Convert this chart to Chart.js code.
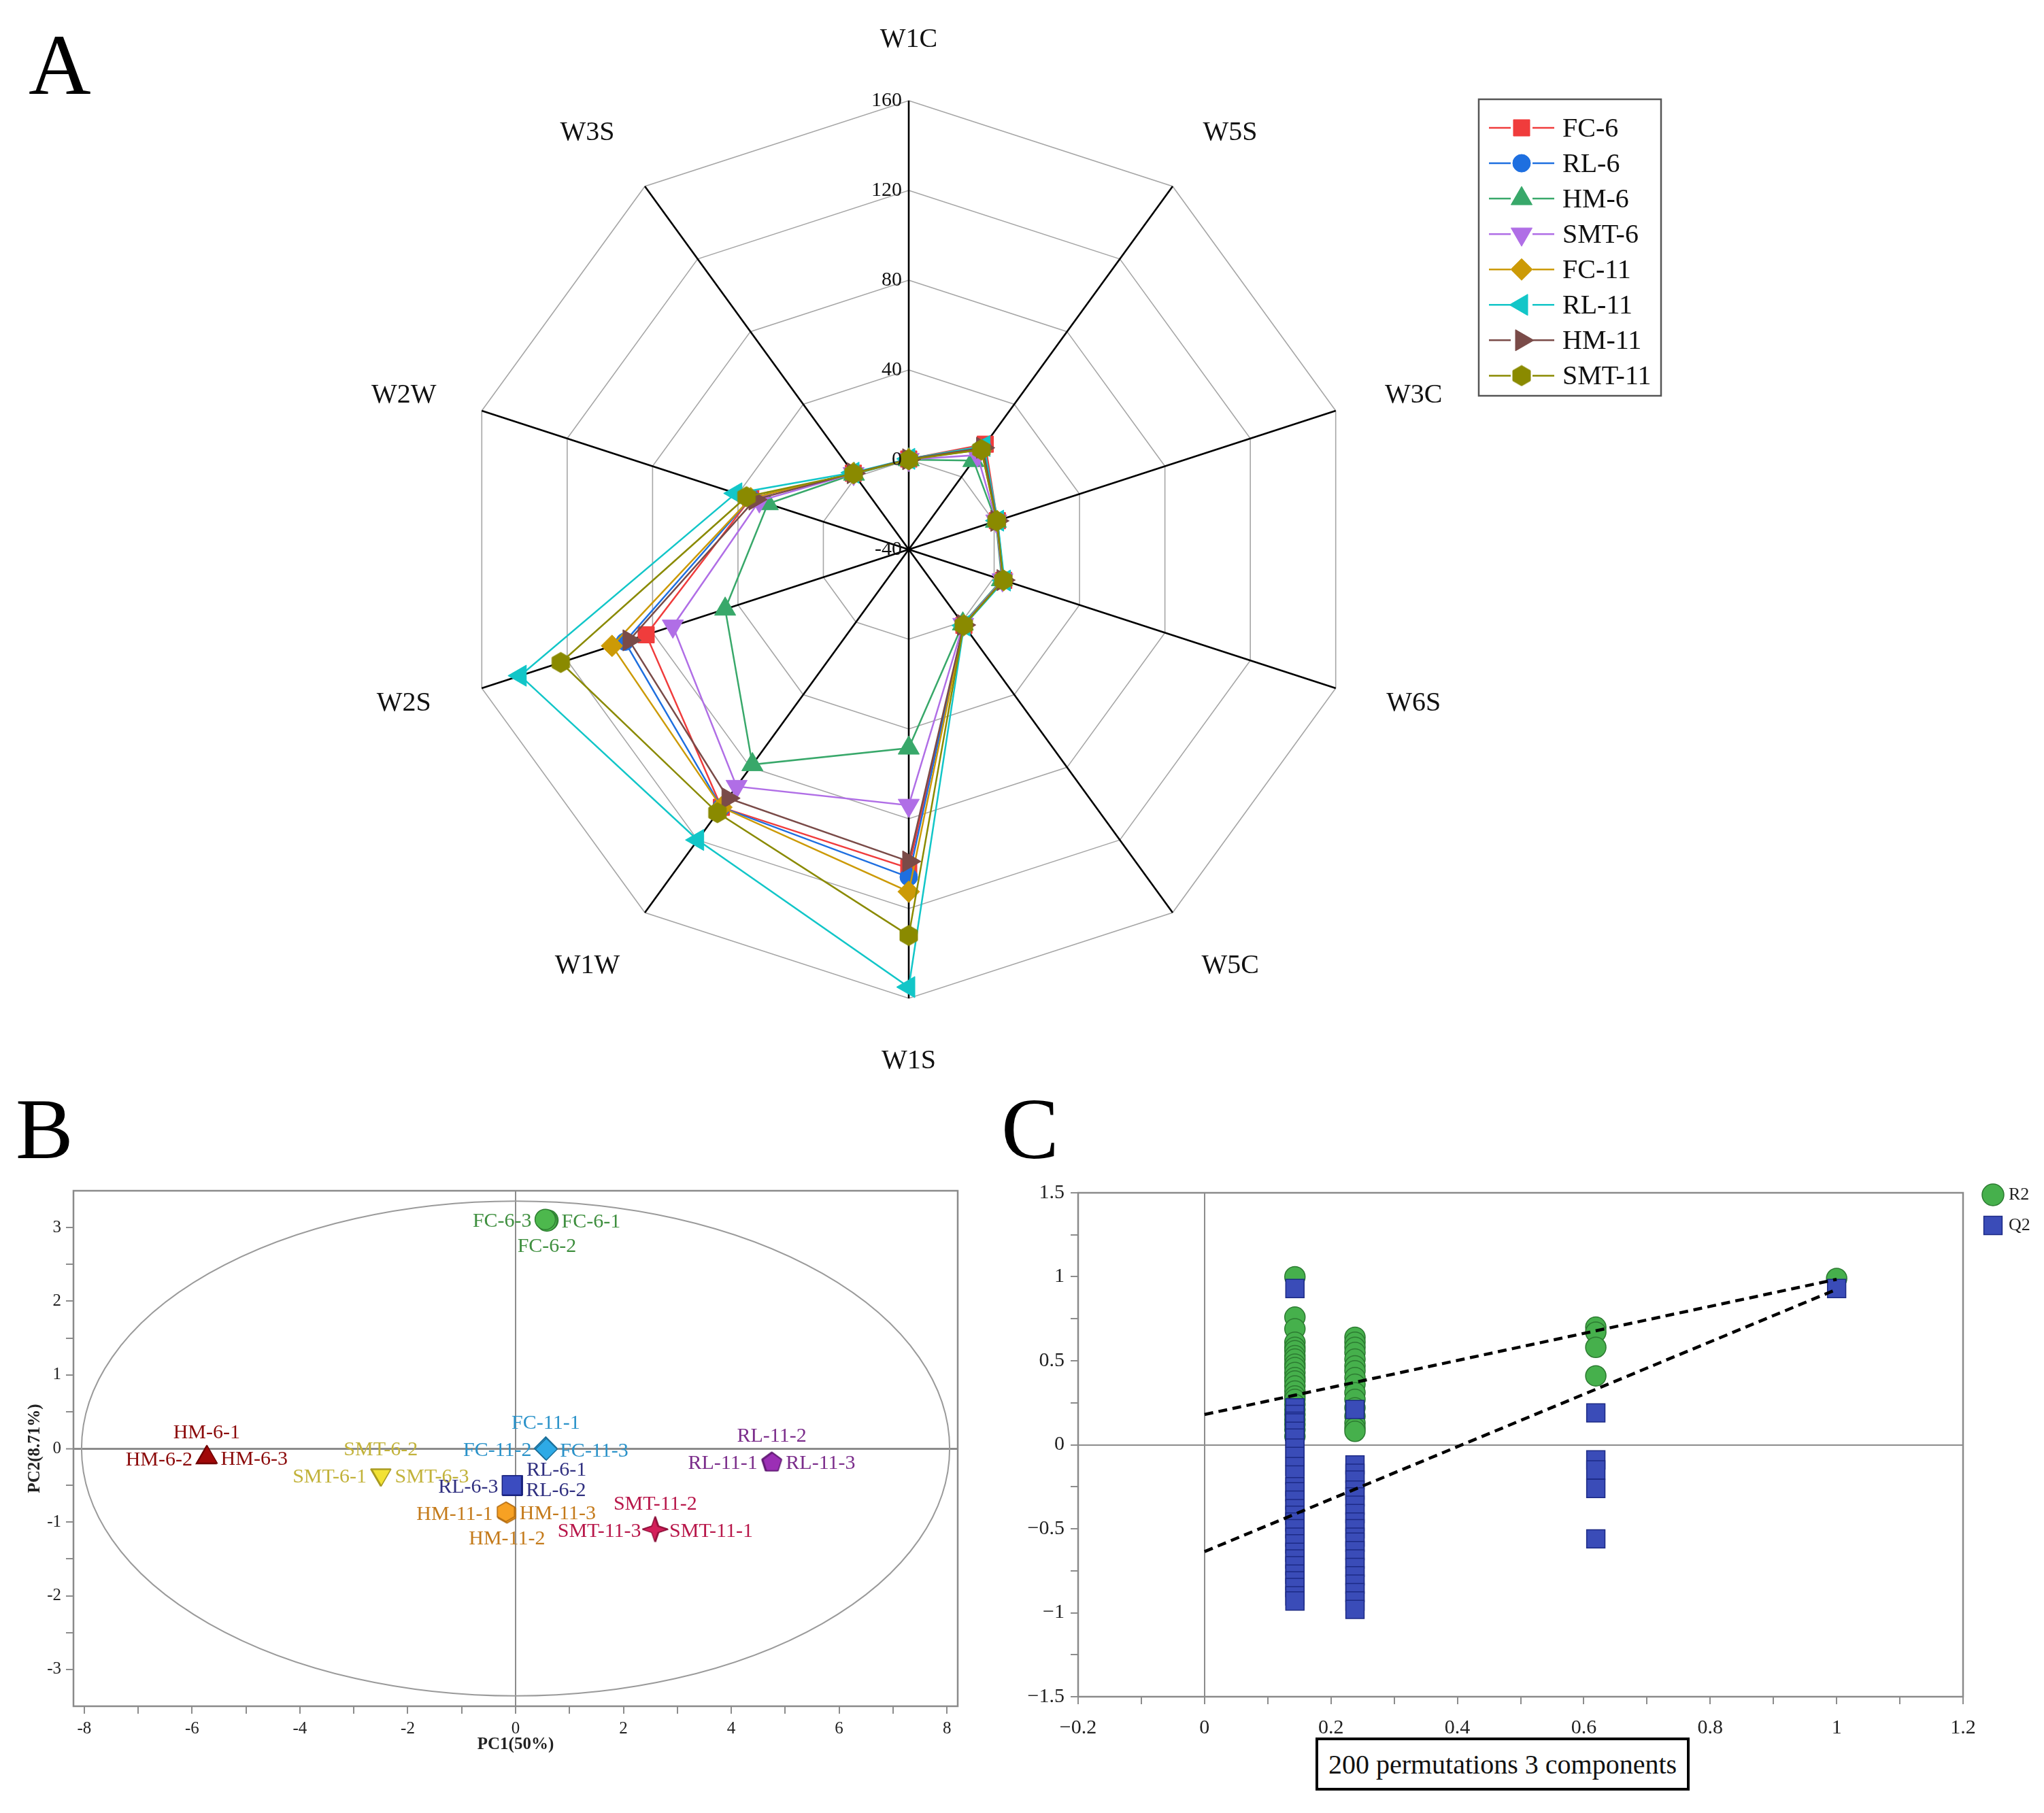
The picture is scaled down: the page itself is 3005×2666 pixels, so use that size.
<!DOCTYPE html>
<html>
<head>
<meta charset="utf-8">
<script src="https://cdn.jsdelivr.net/npm/chart.js@4.4.1/dist/chart.umd.min.js"></script>
<style>
html, body { margin: 0; padding: 0; background: #fff; }
#wrap { position: relative; width: 3005px; height: 2666px; overflow: hidden; background: #fff;
        font-family: "Liberation Serif", "Times New Roman", serif; }
canvas { position: absolute; }
.letter { position: absolute; font-size: 127px; line-height: 1; color: #000; z-index: 5; }
#permbox { position: absolute; left: 1934px; top: 2555px; width: 550px; height: 78px;
           border: 4px solid #000; box-sizing: border-box; font-size: 40px; color: #111;
           display: flex; align-items: center; justify-content: center; z-index: 5; background: #fff; }
</style>
</head>
<body>
<div id="wrap">
  <canvas id="radar" width="3005" height="1620" style="left:0;top:0;width:3005px;height:1620px"></canvas>
  <canvas id="pca" width="1450" height="950" style="left:0;top:1700px;width:1450px;height:950px"></canvas>
  <canvas id="perm" width="1555" height="950" style="left:1450px;top:1700px;width:1555px;height:950px"></canvas>
  <div class="letter" style="left:42px;top:32px">A</div>
  <div class="letter" style="left:23px;top:1597px">B</div>
  <div class="letter" style="left:1472px;top:1597px">C</div>
  <div id="permbox">200 permutations 3 components</div>
</div>
<script>
// ===================== DATA =====================
// Panel A: electronic-nose radar
const sensors = ['W1C', 'W5S', 'W3C', 'W6S', 'W5C', 'W1S', 'W1W', 'W2S', 'W2W', 'W3S'];
const radarGroups = ['FC-6', 'RL-6', 'HM-6', 'SMT-6', 'FC-11', 'RL-11', 'HM-11', 'SMT-11'];
const radarFC6   = [0.3, 18, 1.5, 4.5, 1.8, 102, 102, 83, 34, 2.0];
const radarRL6   = [0.2, 16, 1.3, 4.3, 1.6, 106, 102, 93, 34, 2.0];
const radarHM6   = [0.0, 9, 0.8, 3.6, 1.0, 48.5, 78.5, 46, 26, 1.5];
const radarSMT6  = [0.1, 12, 1.0, 3.9, 1.3, 74, 90.5, 70.5, 30, 1.8];
const radarFC11  = [0.2, 15, 1.3, 4.4, 1.7, 112.5, 102, 99, 34, 2.0];
const radarRL11  = [0.4, 17, 1.6, 4.8, 1.9, 155, 120, 142, 41, 2.3];
const radarHM11  = [0.2, 16, 1.3, 4.2, 1.6, 99, 97, 91, 32, 2.0];
const radarSMT11 = [0.0, 15, 1.2, 4.3, 1.7, 132, 105, 123, 36, 1.8];
const radarTickValues = [-40, 0, 40, 80, 120, 160];

// Panel B: PCA scores
const pcaGroups = ['FC-6', 'RL-6', 'HM-6', 'SMT-6', 'FC-11', 'RL-11', 'HM-11', 'SMT-11'];
const pcaSampleNames = ['FC-6-1', 'FC-6-2', 'FC-6-3', 'RL-6-1', 'RL-6-2', 'RL-6-3',
  'HM-6-1', 'HM-6-2', 'HM-6-3', 'SMT-6-1', 'SMT-6-2', 'SMT-6-3',
  'FC-11-1', 'FC-11-2', 'FC-11-3', 'RL-11-1', 'RL-11-2', 'RL-11-3',
  'HM-11-1', 'HM-11-2', 'HM-11-3', 'SMT-11-1', 'SMT-11-2', 'SMT-11-3'];
const pcaPC1 = [0.60, 0.58, 0.55, -0.05, -0.06, -0.07,
  -5.73, -5.74, -5.72, -2.51, -2.50, -2.49,
  0.56, 0.55, 0.57, 4.74, 4.75, 4.76,
  -0.17, -0.16, -0.18, 2.60, 2.59, 2.58];
const pcaPC2 = [3.10, 3.09, 3.11, -0.50, -0.51, -0.50,
  -0.12, -0.13, -0.12, -0.36, -0.35, -0.36,
  0.01, 0.00, -0.01, -0.18, -0.17, -0.18,
  -0.87, -0.88, -0.86, -1.10, -1.09, -1.10];
const pcaEllipseSemiAxes = [8.05, 3.36];
const pcaXTickValues = [-8, -7, -6, -5, -4, -3, -2, -1, 0, 1, 2, 3, 4, 5, 6, 7, 8];
const pcaYTickValues = [-3, -2.5, -2, -1.5, -1, -0.5, 0, 0.5, 1, 1.5, 2, 2.5, 3];
const pcaXTitle = 'PC1(50%)';
const pcaYTitle = 'PC2(8.71%)';

// Panel C: permutation test (200 permutations, 3 components)
const permCorrelation = [0.143, 0.238, 0.619, 1.0];
const permR2Col1 = [1.0, 0.76, 0.69, 0.61, 0.58, 0.56, 0.53, 0.51, 0.48, 0.46, 0.43, 0.40, 0.38, 0.35, 0.32, 0.29, 0.27, 0.24, 0.21, 0.18, 0.15, 0.12, 0.09, 0.05];
const permR2Col2 = [0.64, 0.61, 0.58, 0.55, 0.51, 0.47, 0.44, 0.40, 0.36, 0.31, 0.27, 0.22, 0.17, 0.13, 0.10, 0.08];
const permR2Col3 = [0.70, 0.67, 0.58, 0.41];
const permR2Col4 = [0.99];
const permQ2Col1 = [0.93, 0.22, 0.18, 0.14, 0.13, 0.08, 0.04, -0.02, -0.07, -0.13, -0.18, -0.25, -0.28, -0.33, -0.38, -0.42, -0.46, -0.50, -0.55, -0.59, -0.64, -0.68, -0.72, -0.77, -0.81, -0.85, -0.90, -0.93];
const permQ2Col2 = [0.21, -0.12, -0.17, -0.21, -0.27, -0.31, -0.36, -0.41, -0.46, -0.50, -0.55, -0.58, -0.63, -0.68, -0.73, -0.78, -0.83, -0.88, -0.93, -0.98];
const permQ2Col3 = [0.19, -0.09, -0.15, -0.26, -0.56];
const permQ2Col4 = [0.93];
const permLineX = [0, 1];
const r2InterceptLine = [0.18, 0.985];
const q2InterceptLine = [-0.636, 0.925];
const permXTickValues = [-0.2, -0.1, 0, 0.1, 0.2, 0.3, 0.4, 0.5, 0.6, 0.7, 0.8, 0.9, 1, 1.1, 1.2];
const permYTickValues = [-1.5, -1.25, -1, -0.75, -0.5, -0.25, 0, 0.25, 0.5, 0.75, 1, 1.25, 1.5];

// ===================== STYLE / HELPERS =====================
Chart.defaults.font.family = "'Liberation Serif', 'Times New Roman', serif";
Chart.defaults.color = '#222';

function shapeCanvas(kind, size, fill, stroke, lw) {
  const c = document.createElement('canvas');
  c.width = size; c.height = size;
  const g = c.getContext('2d');
  const cx = size / 2, cy = size / 2, r = size / 2 - lw;
  g.beginPath();
  if (kind === 'hexagon') {
    for (let k = 0; k < 6; k++) { const a = -Math.PI / 2 + k * Math.PI / 3; const px = cx + r * Math.cos(a), py = cy + r * Math.sin(a); k ? g.lineTo(px, py) : g.moveTo(px, py); }
  } else if (kind === 'pentagon') {
    for (let k = 0; k < 5; k++) { const a = -Math.PI / 2 + k * 2 * Math.PI / 5; const px = cx + r * Math.cos(a), py = cy + r * Math.sin(a) + r * 0.1; k ? g.lineTo(px, py) : g.moveTo(px, py); }
  } else if (kind === 'star4') {
    for (let k = 0; k < 8; k++) { const a = -Math.PI / 2 + k * Math.PI / 4; const rr = k % 2 ? r * 0.36 : r; const px = cx + rr * Math.cos(a), py = cy + rr * Math.sin(a); k ? g.lineTo(px, py) : g.moveTo(px, py); }
  }
  g.closePath();
  g.fillStyle = fill; g.fill();
  if (lw > 0) { g.strokeStyle = stroke; g.lineWidth = lw; g.stroke(); }
  return c;
}

function drawMarker(ctx, shape, rotDeg, r, x, y, fill, stroke, bw) {
  ctx.save();
  ctx.translate(x, y);
  if (shape instanceof HTMLCanvasElement) {
    ctx.drawImage(shape, -shape.width / 2, -shape.height / 2);
    ctx.restore();
    return;
  }
  ctx.rotate(rotDeg * Math.PI / 180);
  ctx.fillStyle = fill; ctx.strokeStyle = stroke; ctx.lineWidth = bw;
  ctx.beginPath();
  if (shape === 'circle') ctx.arc(0, 0, r, 0, Math.PI * 2);
  else if (shape === 'rect') { const s = r * Math.SQRT1_2; ctx.rect(-s, -s, 2 * s, 2 * s); }
  else if (shape === 'rectRot') { ctx.moveTo(0, -r); ctx.lineTo(r, 0); ctx.lineTo(0, r); ctx.lineTo(-r, 0); ctx.closePath(); }
  else if (shape === 'triangle') {
    for (let k = 0; k < 3; k++) { const a = k * 2 * Math.PI / 3; const px = Math.sin(a) * r, py = -Math.cos(a) * r; k ? ctx.lineTo(px, py) : ctx.moveTo(px, py); }
    ctx.closePath();
  }
  ctx.fill();
  if (bw > 0) ctx.stroke();
  ctx.restore();
}

// ===================== PANEL A: RADAR =====================
const radarSeries = [radarFC6, radarRL6, radarHM6, radarSMT6, radarFC11, radarRL11, radarHM11, radarSMT11];
const radarColors = ['#f03c3c', '#1e6fe0', '#38a86a', '#b06ee6', '#cc9a06', '#12c6c8', '#7a4b48', '#8a8a00'];
const radarShapes = ['rect', 'circle', 'triangle', 'triangle', 'rectRot', 'triangle', 'triangle',
                     shapeCanvas('hexagon', 32, '#8a8a00', '#8a8a00', 1)];
const radarRot = [0, 0, 0, 180, 0, 270, 90, 0];
const radarRadius = [17, 13, 18, 18, 16, 18, 18, 15];

const radarDeco = {
  id: 'radarDeco',
  afterDraw(chart) {
    const ctx = chart.ctx;
    const s = chart.scales.r;
    ctx.save();
    // tick labels
    ctx.font = "30px 'Liberation Serif', serif";
    ctx.fillStyle = '#111';
    ctx.textAlign = 'right';
    ctx.textBaseline = 'middle';
    radarTickValues.forEach(v => {
      const d = s.getDistanceFromCenterForValue(v);
      ctx.fillText(String(v), s.xCenter - 10, s.yCenter - d);
    });
    // sensor labels
    ctx.font = "40px 'Liberation Serif', serif";
    ctx.textAlign = 'center';
    sensors.forEach((name, i) => {
      const ang = s.getIndexAngle(i);
      const sn = Math.sin(ang), cs = Math.cos(ang);
      let p, dx = 0, dy = 0;
      if (Math.abs(cs) > 0.95) {
        p = s.getPointPosition(i, s.drawingArea + 92);
        dy = cs > 0 ? 2 : 0;
      } else if (Math.abs(cs) > 0.5) {
        p = s.getPointPosition(i, s.drawingArea + 110);
        dx = 20 * Math.sign(sn);
        dy = 10 * Math.sign(cs);
      } else {
        p = s.getPointPosition(i, s.drawingArea + 113);
        dx = 7 * Math.sign(sn);
        dy = 12 * Math.sign(cs);
      }
      ctx.fillText(name, p.x + dx, p.y + dy);
    });
    // legend box
    const bx = 2174, by = 146, bw = 268, bh = 436;
    ctx.strokeStyle = '#555';
    ctx.lineWidth = 2.5;
    ctx.strokeRect(bx, by, bw, bh);
    ctx.textAlign = 'left';
    radarGroups.forEach((g, i) => {
      const y = 188 + i * 52.06;
      ctx.strokeStyle = radarColors[i];
      ctx.lineWidth = 2.5;
      ctx.beginPath();
      ctx.moveTo(2189, y); ctx.lineTo(2221, y);
      ctx.moveTo(2253, y); ctx.lineTo(2285, y);
      ctx.stroke();
      drawMarker(ctx, radarShapes[i], radarRot[i], radarRadius[i], 2237, y, radarColors[i], radarColors[i], 1);
      ctx.fillStyle = '#111';
      ctx.fillText(g, 2297, y + 2);
    });
    ctx.restore();
  }
};

new Chart(document.getElementById('radar'), {
  type: 'radar',
  data: {
    labels: sensors,
    datasets: radarGroups.map((g, i) => ({
      label: g,
      data: radarSeries[i],
      borderColor: radarColors[i],
      backgroundColor: radarColors[i],
      pointBackgroundColor: radarColors[i],
      pointBorderColor: radarColors[i],
      pointBorderWidth: 1,
      borderWidth: 2.5,
      pointStyle: radarShapes[i],
      pointRotation: radarRot[i],
      pointRadius: radarRadius[i],
      fill: false,
      tension: 0,
      order: radarGroups.length - i
    }))
  },
  options: {
    responsive: false,
    devicePixelRatio: 1,
    animation: false,
    layout: { padding: { left: 676, top: 148, right: 1009, bottom: 152 } },
    plugins: { legend: { display: false }, tooltip: { enabled: false } },
    scales: {
      r: {
        min: -40, max: 160, beginAtZero: false,
        ticks: { stepSize: 40, display: false },
        grid: { color: '#a6a6a6', lineWidth: 1.6, circular: false },
        angleLines: { color: '#000', lineWidth: 2.6 },
        pointLabels: { display: false }
      }
    }
  },
  plugins: [radarDeco]
});

// ===================== PANEL B: PCA =====================
const pcaLabelColors = ['#3f8f3f', '#303080', '#8b0a0a', '#c2b23a', '#2a92c9', '#7b2d8b', '#c47a1a', '#b8174a'];
const pcaFill = ['#4db84d', '#3b4cc0', '#a00808', '#f2e234', '#2eaae6', '#9b2fb5', '#f7a123', '#d41f5a'];
const pcaBorder = ['#2e7d32', '#1a237e', '#700000', '#a89a20', '#1b6f9a', '#5e1a70', '#b06a10', '#8a0f38'];
const pcaShapes = ['circle', 'rect', 'triangle', 'triangle', 'rectRot',
  shapeCanvas('pentagon', 32, '#9b2fb5', '#5e1a70', 1.5),
  shapeCanvas('hexagon', 32, '#f7a123', '#b06a10', 1.5),
  shapeCanvas('star4', 38, '#d41f5a', '#8a0f38', 1.2)];
const pcaRot = [0, 0, 0, 180, 0, 0, 0, 0];
const pcaRadius = [15, 20, 17, 16, 16, 15, 15, 17];
const pcaLabelPlacement = [
  'right', 'below', 'left',
  'upright', 'downright', 'left',
  'above', 'left', 'right',
  'left', 'above', 'right',
  'above', 'left', 'right',
  'left', 'above', 'right',
  'left', 'below', 'right',
  'right', 'above', 'left'];

function groupOf(name) { return name.replace(/-\d+$/, ''); }

const pcaDeco = {
  id: 'pcaDeco',
  beforeDatasetsDraw(chart) {
    const { ctx, chartArea, scales: { x, y } } = chart;
    const cx = x.getPixelForValue(0), cy = y.getPixelForValue(0);
    const rx = x.getPixelForValue(pcaEllipseSemiAxes[0]) - cx;
    const ry = cy - y.getPixelForValue(pcaEllipseSemiAxes[1]);
    ctx.save();
    ctx.beginPath();
    ctx.rect(chartArea.left, chartArea.top, chartArea.right - chartArea.left, chartArea.bottom - chartArea.top);
    ctx.clip();
    ctx.strokeStyle = '#9a9a9a';
    ctx.lineWidth = 2;
    ctx.beginPath();
    ctx.ellipse(cx, cy, rx, ry, 0, 0, Math.PI * 2);
    ctx.stroke();
    ctx.restore();
  },
  afterDatasetsDraw(chart) {
    const { ctx, scales: { x, y } } = chart;
    ctx.save();
    ctx.font = "30px 'Liberation Serif', serif";
    ctx.textBaseline = 'middle';
    pcaSampleNames.forEach((name, i) => {
      const gi = pcaGroups.indexOf(groupOf(name));
      const px = x.getPixelForValue(pcaPC1[i]);
      const py = y.getPixelForValue(pcaPC2[i]);
      let tx = px, ty = py, align = 'center';
      switch (pcaLabelPlacement[i]) {
        case 'left': tx = px - 20; ty = py + 3; align = 'right'; break;
        case 'right': tx = px + 20; ty = py + 3; align = 'left'; break;
        case 'above': ty = py - 36; break;
        case 'below': ty = py + 38; break;
        case 'upright': tx = px + 20; ty = py - 22; align = 'left'; break;
        case 'downright': tx = px + 20; ty = py + 7; align = 'left'; break;
      }
      ctx.textAlign = align;
      ctx.fillStyle = pcaLabelColors[gi];
      ctx.fillText(name, tx, ty);
    });
    ctx.restore();
  },
  afterDraw(chart) {
    const { ctx, chartArea: a } = chart;
    ctx.save();
    ctx.strokeStyle = '#8a8a8a';
    ctx.lineWidth = 2.5;
    ctx.strokeRect(a.left, a.top, a.right - a.left, a.bottom - a.top);
    ctx.restore();
  }
};

const zeroGridColor = c => (c.tick && c.tick.value === 0 ? '#8c8c8c' : 'rgba(0,0,0,0)');

new Chart(document.getElementById('pca'), {
  type: 'scatter',
  data: {
    datasets: pcaGroups.map((g, gi) => ({
      label: g,
      data: pcaSampleNames.map((n, i) => ({ n, i })).filter(o => groupOf(o.n) === g)
        .map(o => ({ x: pcaPC1[o.i], y: pcaPC2[o.i] })),
      pointStyle: pcaShapes[gi],
      pointRotation: pcaRot[gi],
      pointRadius: pcaRadius[gi],
      backgroundColor: pcaFill[gi],
      borderColor: pcaBorder[gi],
      borderWidth: 1.5
    }))
  },
  options: {
    responsive: false,
    devicePixelRatio: 1,
    animation: false,
    layout: { padding: { left: 0, top: 51, right: 42, bottom: 36 } },
    plugins: { legend: { display: false }, tooltip: { enabled: false } },
    scales: {
      x: {
        type: 'linear', min: -8.2, max: 8.2,
        afterBuildTicks: s => { s.ticks = pcaXTickValues.map(v => ({ value: v })); },
        afterFit: s => { s.height = 105; },
        ticks: { autoSkip: false, maxRotation: 0, padding: 7, font: { size: 25 }, color: '#222',
                 callback: v => (Math.abs(v % 2) < 1e-9 ? String(v) : '') },
        grid: { color: zeroGridColor, lineWidth: 2, tickColor: '#8c8c8c', tickWidth: 2, tickLength: 11 },
        border: { display: false },
        title: { display: true, text: pcaXTitle, font: { size: 25, weight: 'bold' }, color: '#222',
                 padding: { top: 0, bottom: 33 } }
      },
      y: {
        type: 'linear', min: -3.5, max: 3.5,
        afterBuildTicks: s => { s.ticks = pcaYTickValues.map(v => ({ value: v })); },
        afterFit: s => { s.width = 108; },
        ticks: { autoSkip: false, padding: 7, font: { size: 25 }, color: '#222',
                 callback: v => (Number.isInteger(v) ? String(v) : '') },
        grid: { color: zeroGridColor, lineWidth: c => (c.tick && c.tick.value === 0 ? 3 : 2),
                tickColor: '#8c8c8c', tickWidth: 2, tickLength: 11 },
        border: { display: false },
        title: { display: true, text: pcaYTitle, font: { size: 25, weight: 'bold' }, color: '#222',
                 padding: { top: 37, bottom: 0 } }
      }
    }
  },
  plugins: [pcaDeco]
});

// ===================== PANEL C: PERMUTATION =====================
const permR2Cols = [permR2Col1, permR2Col2, permR2Col3, permR2Col4];
const permQ2Cols = [permQ2Col1, permQ2Col2, permQ2Col3, permQ2Col4];
const r2Points = [];
permR2Cols.forEach((col, i) => col.forEach(v => r2Points.push({ x: permCorrelation[i], y: v })));
const q2Points = [];
permQ2Cols.forEach((col, i) => col.forEach(v => q2Points.push({ x: permCorrelation[i], y: v })));
const r2LinePts = permLineX.map((xv, i) => ({ x: xv, y: r2InterceptLine[i] }));
const q2LinePts = permLineX.map((xv, i) => ({ x: xv, y: q2InterceptLine[i] }));

const R2_FILL = '#46b04c', R2_EDGE = '#2c7a31', Q2_FILL = '#3a4cb8', Q2_EDGE = '#1c2a85';

function fmtMinus(v) {
  const s = String(Math.abs(v));
  return v < 0 ? '\u2212' + s : s;
}

const permDeco = {
  id: 'permDeco',
  afterDraw(chart) {
    const { ctx, chartArea: a } = chart;
    ctx.save();
    ctx.strokeStyle = '#8a8a8a';
    ctx.lineWidth = 2.5;
    ctx.strokeRect(a.left, a.top, a.right - a.left, a.bottom - a.top);
    drawMarker(ctx, 'circle', 0, 16, 1480, 57, R2_FILL, R2_EDGE, 1.5);
    drawMarker(ctx, 'rect', 0, 19, 1480, 102, Q2_FILL, Q2_EDGE, 1.5);
    ctx.font = "26px 'Liberation Serif', serif";
    ctx.fillStyle = '#222';
    ctx.textAlign = 'left';
    ctx.textBaseline = 'middle';
    ctx.fillText('R2', 1503, 57);
    ctx.fillText('Q2', 1503, 102);
    ctx.restore();
  }
};

new Chart(document.getElementById('perm'), {
  type: 'scatter',
  data: {
    datasets: [
      { label: 'R2', data: r2Points, pointStyle: 'circle', pointRadius: 15,
        backgroundColor: R2_FILL, borderColor: R2_EDGE, borderWidth: 1.5, order: 2 },
      { label: 'Q2', data: q2Points, pointStyle: 'rect', pointRadius: 19,
        backgroundColor: Q2_FILL, borderColor: Q2_EDGE, borderWidth: 1.5, order: 1 },
      { type: 'line', label: 'R2 line', data: r2LinePts, showLine: true, borderColor: '#000',
        borderWidth: 4.5, borderDash: [13, 8], pointRadius: 0, fill: false, order: 0 },
      { type: 'line', label: 'Q2 line', data: q2LinePts, showLine: true, borderColor: '#000',
        borderWidth: 4.5, borderDash: [13, 8], pointRadius: 0, fill: false, order: 0 }
    ]
  },
  options: {
    responsive: false,
    devicePixelRatio: 1,
    animation: false,
    layout: { padding: { left: 35, top: 54, right: 119, bottom: 65 } },
    plugins: { legend: { display: false }, tooltip: { enabled: false } },
    scales: {
      x: {
        type: 'linear', min: -0.2, max: 1.2,
        afterBuildTicks: s => { s.ticks = permXTickValues.map(v => ({ value: v })); },
        afterFit: s => { s.height = 90; },
        ticks: { autoSkip: false, maxRotation: 0, padding: 17, font: { size: 30 }, color: '#222',
                 callback: v => (Math.abs(v * 5 - Math.round(v * 5)) < 1e-6 ? fmtMinus(v) : '') },
        grid: { color: zeroGridColor, lineWidth: 2, tickColor: '#8c8c8c', tickWidth: 2, tickLength: 11 },
        border: { display: false }
      },
      y: {
        type: 'linear', min: -1.5, max: 1.5,
        afterBuildTicks: s => { s.ticks = permYTickValues.map(v => ({ value: v })); },
        afterFit: s => { s.width = 100; },
        ticks: { autoSkip: false, padding: 9, font: { size: 30 }, color: '#222',
                 callback: v => (Math.abs(v * 2 - Math.round(v * 2)) < 1e-6 ? fmtMinus(v) : '') },
        grid: { color: zeroGridColor, lineWidth: 2, tickColor: '#8c8c8c', tickWidth: 2, tickLength: 11 },
        border: { display: false }
      }
    }
  },
  plugins: [permDeco]
});
</script>
</body>
</html>
